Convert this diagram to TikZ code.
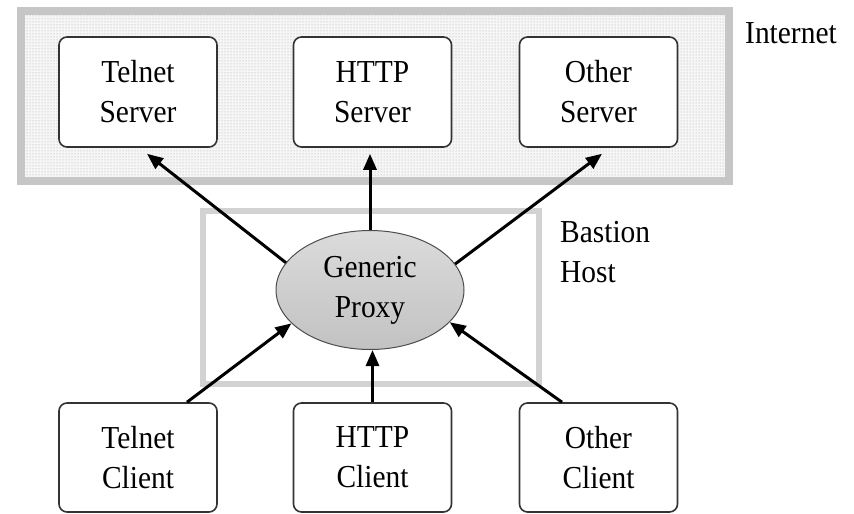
\documentclass[tikz,border=0pt]{standalone}
\usepackage{fontspec}
\setmainfont{Liberation Serif}[FakeStretch=0.92]
\usetikzlibrary{shapes.geometric,arrows.meta,patterns}

\begin{document}
\begin{tikzpicture}[x=1pt,y=-1pt,
  every node/.style={font=\fontsize{32}{40}\selectfont, align=center},
  hostbox/.style={draw=black!80, line width=1.6pt, rounded corners=8pt, fill=white,
    minimum width=158pt, minimum height=110pt, inner sep=0pt},
  proxy/.style={ellipse, draw=black!70, line width=1pt, minimum width=188pt,
    minimum height=119pt, inner sep=0pt,
    top color=gray!28, middle color=gray!4, bottom color=gray!48},
  netzone/.style={draw=gray!45, line width=8pt, minimum width=708pt, minimum height=170pt,
    preaction={fill=gray!7}, pattern=dots, pattern color=gray!70, inner sep=0pt},
  hostzone/.style={draw=gray!35, line width=6pt, minimum width=336pt, minimum height=173pt,
    inner sep=0pt},
  zonelabel/.style={inner sep=0pt},
  flow/.style={line width=3pt, -{Triangle[length=16pt,width=13pt]}}
]
\useasboundingbox (0,0) rectangle (854,514);

% zones
\node[netzone] (inet) at (375,96) {};
\node[hostzone] (bastion) at (371,297.5) {};
\node[zonelabel, anchor=base west] (inetlbl) at (745,43) {Internet};
\node[zonelabel, anchor=west, align=left] (bastionlbl) at (560,252) {Bastion\\Host};

% servers
\node[hostbox] (ts) at (138,92) {Telnet\\Server};
\node[hostbox] (hs) at (372.5,92) {HTTP\\Server};
\node[hostbox] (os) at (598.5,92) {Other\\Server};

% proxy
\node[proxy] (gp) at (370,290) {Generic\\Proxy};

% clients
\node[hostbox, minimum height=109pt] (tc) at (138,457.5) {Telnet\\Client};
\node[hostbox, minimum height=109pt] (hc) at (372.5,457.5) {HTTP\\Client};
\node[hostbox, minimum height=109pt] (oc) at (598.5,457.5) {Other\\Client};

% proxy to servers
\draw[flow] (gp.162) -- ([xshift=9pt,yshift=-6pt]ts.south);
\draw[flow] (gp.north) -- ([yshift=-6pt]gp.north |- hs.south);
\draw[flow] (gp.17) -- ([xshift=3.5pt,yshift=-6pt]os.south);

% clients to proxy
\draw[flow] ([xshift=49pt]tc.north) -- (gp.203);
\draw[flow] (hc.north) -- (hc.north |- gp.south);
\draw[flow] ([xshift=-36.5pt]oc.north) -- (gp.338);
\end{tikzpicture}
\end{document}
